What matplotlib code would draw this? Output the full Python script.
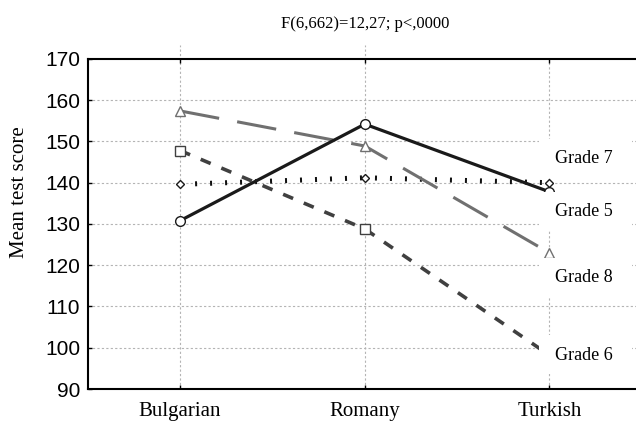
import matplotlib
matplotlib.use("Agg")
from matplotlib import pyplot as plt
from matplotlib.patches import Rectangle

groups = ["Bulgarian", "Romany", "Turkish"]
grade5 = [139.6, 141.2, 140.0]
grade6 = [147.8, 128.8, 98.2]
grade7 = [130.8, 154.2, 137.8]
grade8 = [157.4, 148.9, 123.0]

labels = ["Grade 7", "Grade 5", "Grade 8", "Grade 6"]
label_y = [145.8, 133.0, 117.0, 98.2]

title = "F(6,662)=12,27; p<,0000"
serif = "Liberation Serif"

fig = plt.figure(figsize=(6.36, 4.21), dpi=100)
ax = fig.add_axes([0.138, 0.076, 0.871, 0.784])

xs = list(range(len(groups)))

# grid first, under everything
for y in range(100, 170, 10):
    ax.axhline(y, color="#b4b4b4", lw=0.8, dashes=(2, 2), zorder=0)
for i in xs:
    # first two vertical gridlines stick out a bit above the frame
    top = 1.043 if i < 2 else 1.0
    ax.axvline(i, ymax=top, color="#b4b4b4", lw=0.8, dashes=(2, 2),
               zorder=0, clip_on=False)

ax.plot(xs, grade5, color="#111111", lw=3.6, dashes=(0.4, 2.6),
        dash_capstyle="butt", marker="D", ms=4.5, mfc="white",
        mec="#1a1a1a", mew=1.0, zorder=3)
ax.plot(xs, grade6, color="#404040", lw=2.6, dashes=(3, 3.2),
        dash_capstyle="butt", marker="s", ms=6.5, mfc="white",
        mec="#404040", mew=1.0, zorder=3)
ax.plot(xs, grade8, color="#707070", lw=2.2, dashes=(13, 6),
        dash_capstyle="butt", marker="^", ms=6.5, mfc="white",
        mec="#707070", mew=1.0, zorder=3)
ax.plot(xs, grade7, color="#1a1a1a", lw=2.3, marker="o", ms=7,
        mfc="white", mec="#1a1a1a", mew=1.0, zorder=4)

# white label boxes hide the grid and the end markers, as in the original
for lab, y in zip(labels, label_y):
    ax.add_patch(Rectangle((1.946, y - 4.6), 0.5, 9.4, fc="white",
                           ec="none", zorder=5))
    ax.text(2.032, y, lab, family=serif, fontsize=13, ha="left",
            va="center", zorder=6)

ax.set_xlim(-0.5, 2.5)
ax.set_ylim(90, 170)
ax.set_xticks(xs)
ax.set_xticklabels(groups, family=serif, fontsize=15)
ax.set_yticks(range(90, 171, 10))
ax.set_yticklabels([str(v) for v in range(90, 171, 10)],
                   family="Liberation Sans", fontsize=15)
ax.tick_params(axis="x", direction="in", length=3, width=1, pad=9,
               top=True, color="black")
ax.tick_params(axis="y", direction="in", length=3, width=1, pad=5.5,
               color="black")

for side in ["left", "bottom", "top"]:
    ax.spines[side].set_linewidth(1.5)
    ax.spines[side].set_zorder(7)
ax.spines["right"].set_visible(False)

fig.text(0.574, 0.943, title, family=serif, fontsize=12, ha="center",
         va="center")
fig.text(0.031, 0.544, "Mean test score", family=serif, fontsize=15,
         rotation=90, ha="center", va="center")

fig.savefig("out.png", dpi=100)
